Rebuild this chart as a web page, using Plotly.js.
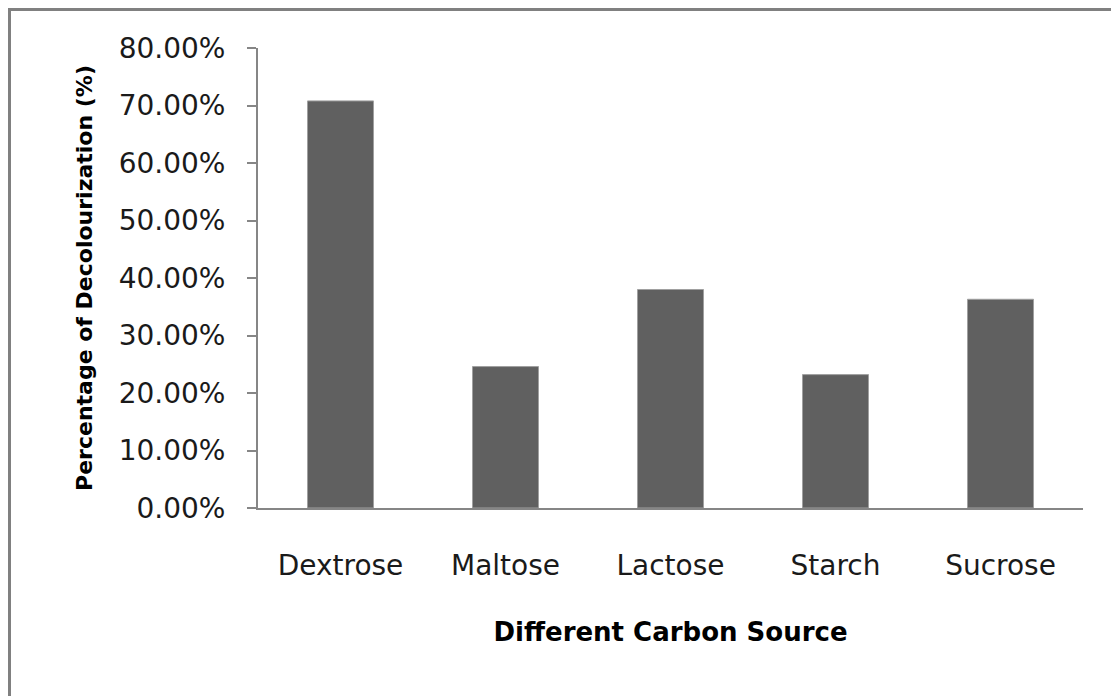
<!DOCTYPE html>
<html>
<head>
<meta charset="utf-8">
<script src="https://cdn.plot.ly/plotly-3.0.1.min.js"></script>
<style>
  html, body { margin: 0; padding: 0; background: #ffffff; }
  #wrap { position: relative; width: 1111px; height: 696px; overflow: hidden; }
  #frame { position: absolute; left: 8px; top: 8px; right: -10px; bottom: -10px;
           border-left: 3px solid #808080; border-top: 3px solid #808080; pointer-events: none; }
  #chart { position: absolute; left: 0; top: 0; width: 1111px; height: 696px; }
</style>
</head>
<body>
<div id="wrap">
  <div id="chart"></div>
  <div id="frame"></div>
</div>
<script>
// Carbon sources tested and the decolourization achieved with each
const carbonSources = ["Dextrose", "Maltose", "Lactose", "Starch", "Sucrose"];
const decolourization = [0.708, 0.246, 0.380, 0.232, 0.363];
const yTickValues = [0, 0.1, 0.2, 0.3, 0.4, 0.5, 0.6, 0.7, 0.8];
const yTickLabels = ["0.00%", "10.00%", "20.00%", "30.00%", "40.00%", "50.00%", "60.00%", "70.00%", "80.00%"];

const fontFamily = "'DejaVu Sans', 'Open Sans', sans-serif";

const trace = {
  type: "bar",
  x: carbonSources,
  y: decolourization,
  marker: { color: "#606060", line: { color: "#a0a0a0", width: 1 } },
  hoverinfo: "x+y"
};

const layout = {
  width: 1111,
  height: 696,
  margin: { l: 258, r: 28, t: 48, b: 188 },
  paper_bgcolor: "#ffffff",
  plot_bgcolor: "#ffffff",
  bargap: 0.6,
  showlegend: false,
  font: { family: fontFamily, color: "#000000" },
  xaxis: {
    type: "category",
    showline: true,
    linecolor: "#868686",
    linewidth: 2,
    ticks: "",
    showgrid: false,
    zeroline: false,
    tickfont: { size: 28, family: fontFamily, color: "#1a1a1a" },
    ticklabelstandoff: 31,
    title: {
      text: "Different Carbon Source",
      font: { size: 26, family: fontFamily, color: "#000000", weight: "bold" },
      standoff: 42
    }
  },
  yaxis: {
    range: [0, 0.8],
    tickvals: yTickValues,
    ticktext: yTickLabels,
    showline: true,
    linecolor: "#868686",
    linewidth: 2,
    ticks: "outside",
    ticklen: 9,
    tickwidth: 2,
    tickcolor: "#868686",
    showgrid: false,
    zeroline: false,
    tickfont: { size: 28, family: fontFamily, color: "#1a1a1a" },
    ticklabelstandoff: 16,
    title: {
      text: "Percentage of Decolourization (%)",
      font: { size: 22, family: fontFamily, color: "#000000", weight: "bold" },
      standoff: 20
    }
  }
};

Plotly.newPlot("chart", [trace], layout, { staticPlot: true, displayModeBar: false });
</script>
</body>
</html>
